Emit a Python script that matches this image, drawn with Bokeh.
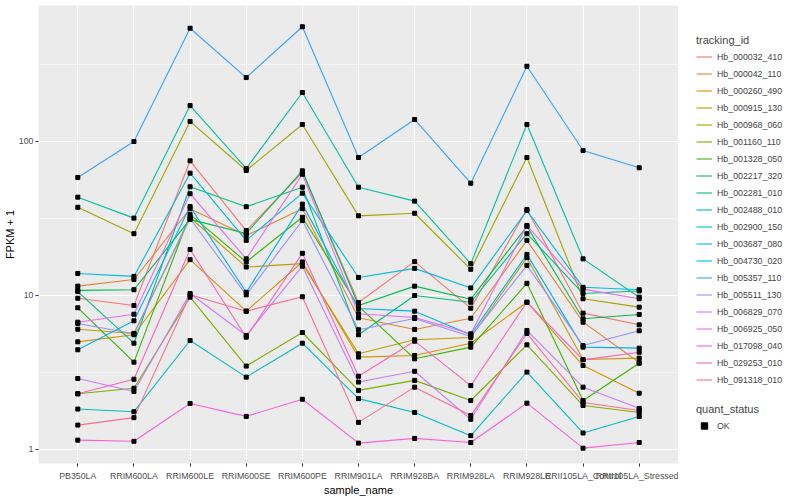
from bokeh.plotting import figure
from bokeh.layouts import row
from bokeh.models import FactorRange, Range1d, FixedTicker, PrintfTickFormatter, Legend, LegendItem
from bokeh.embed import file_html
from bokeh.resources import INLINE

samples = ["PB350LA", "RRIM600LA", "RRIM600LE", "RRIM600SE", "RRIM600PE", "RRIM901LA",
           "RRIM928BA", "RRIM928LA", "RRIM928LE", "RRII105LA_Control", "RRII105LA_Stressed"]

tracking_ids = ["Hb_000032_410", "Hb_000042_110", "Hb_000260_490", "Hb_000915_130", "Hb_000968_060",
                "Hb_001160_110", "Hb_001328_050", "Hb_002217_320", "Hb_002281_010", "Hb_002488_010",
                "Hb_002900_150", "Hb_003687_080", "Hb_004730_020", "Hb_005357_110", "Hb_005511_130",
                "Hb_006829_070", "Hb_006925_050", "Hb_017098_040", "Hb_029253_010", "Hb_091318_010"]

colors = ["#F8766D", "#EA8331", "#D89000", "#C09B00", "#A3A500", "#7CAE00", "#39B600", "#00BB4E",
          "#00BF7D", "#00C1A3", "#00BFC4", "#00BAE0", "#00B0F6", "#35A2FF", "#9590FF", "#C77CFF",
          "#E76BF3", "#FA62DB", "#FF62BC", "#FF6C91"]

# FPKM + 1 per sample (same order as samples)
hb_000032_410 = [9.6, 8.61, 74.9, 26.4, 62.9, 9.01, 16.6, 8.27, 36.2, 7.68, 6.45]
hb_000042_110 = [11.5, 12.7, 36.6, 24.5, 36.6, 7.16, 6.02, 7.12, 22.8, 6.71, 3.67]
hb_000260_490 = [5.0, 5.56, 17.1, 7.91, 16.5, 3.98, 4.08, 4.9, 9.04, 3.51, 2.32]
hb_000915_130 = [6.04, 5.67, 32.1, 15.3, 16.1, 4.18, 5.16, 5.34, 17.6, 3.84, 3.92]
hb_000968_060 = [37.4, 25.2, 135, 64.8, 129, 32.9, 34.2, 14.8, 78.7, 9.52, 8.4]
hb_001160_110 = [2.30, 2.50, 9.75, 3.48, 5.75, 2.42, 2.81, 2.08, 4.78, 1.93, 1.74]
hb_001328_050 = [8.32, 3.69, 33.6, 16.5, 32.2, 8.52, 3.88, 4.62, 12.0, 2.08, 3.63]
hb_002217_320 = [10.8, 10.9, 31.2, 25.3, 64.5, 8.61, 11.5, 9.46, 28.1, 7.06, 7.53]
hb_002281_010 = [10.6, 4.9, 50.8, 37.7, 50.5, 5.56, 10.0, 9.04, 25.2, 10.3, 10.7]
hb_002488_010 = [43.5, 31.8, 171, 66.8, 208, 50.5, 41.0, 16.1, 129, 17.3, 9.75]
hb_002900_150 = [1.83, 1.76, 5.1, 2.95, 4.9, 2.14, 1.74, 1.23, 3.18, 1.28, 1.64]
hb_003687_080 = [13.9, 13.3, 62.3, 22.8, 46.2, 13.1, 15.0, 11.2, 35.6, 11.3, 10.9]
hb_004730_020 = [4.44, 6.85, 37.8, 10.5, 39.2, 8.23, 7.91, 5.56, 18.5, 4.62, 4.55]
hb_005357_110 = [58.4, 100, 544, 260, 556, 78.7, 139, 53.6, 308, 87.4, 67.5]
hb_005511_130 = [6.58, 5.64, 31.6, 10.1, 30.7, 5.99, 7.09, 5.42, 15.7, 4.73, 5.9]
hb_006829_070 = [2.89, 2.38, 10.3, 5.5, 15.5, 2.74, 3.22, 1.57, 5.93, 2.54, 1.85]
hb_006925_050 = [6.71, 7.56, 45.8, 17.3, 61.3, 7.61, 7.2, 5.64, 28.5, 11.0, 9.52]
hb_017098_040 = [1.15, 1.13, 1.99, 1.64, 2.12, 1.10, 1.18, 1.11, 2.0, 1.02, 1.11]
hb_029253_010 = [2.30, 2.86, 19.9, 5.36, 18.8, 2.99, 5.05, 2.6, 9.04, 3.82, 4.28]
hb_091318_010 = [1.44, 1.61, 10.1, 7.91, 9.81, 1.5, 2.54, 1.66, 5.67, 2.02, 1.79]

series = [hb_000032_410, hb_000042_110, hb_000260_490, hb_000915_130, hb_000968_060,
          hb_001160_110, hb_001328_050, hb_002217_320, hb_002281_010, hb_002488_010,
          hb_002900_150, hb_003687_080, hb_004730_020, hb_005357_110, hb_005511_130,
          hb_006829_070, hb_006925_050, hb_017098_040, hb_029253_010, hb_091318_010]

y_ticks = [1, 10, 100]
y_minor = [3.1623, 31.623, 316.23]

FONT = "Liberation Sans"

p = figure(frame_width=640, frame_height=458,
           x_range=FactorRange(*samples, range_padding=0.2, range_padding_units="absolute"),
           y_axis_type="log", y_range=Range1d(0.811, 764),
           output_backend="svg", toolbar_location=None,
           min_border_top=5, min_border_right=0, min_border_left=0, min_border_bottom=0)

p.background_fill_color = "#EBEBEB"
p.border_fill_color = "white"
p.outline_line_color = None

p.xgrid.grid_line_color = "white"
p.xgrid.grid_line_width = 1.1
p.ygrid.grid_line_color = "white"
p.ygrid.grid_line_width = 1.1
p.ygrid.minor_grid_line_color = "white"
p.ygrid.minor_grid_line_width = 0.55

p.yaxis.ticker = FixedTicker(ticks=y_ticks, minor_ticks=y_minor)
p.yaxis.formatter = PrintfTickFormatter(format="%d")

for ax in (p.xaxis, p.yaxis):
    ax.axis_line_color = None
    ax.major_tick_line_color = "#333333"
    ax.major_tick_in = 0
    ax.major_tick_out = 3
    ax.minor_tick_line_color = None
    ax.major_label_text_font = FONT
    ax.major_label_text_font_size = "8.8px"
    ax.major_label_text_color = "#4D4D4D"
    ax.axis_label_text_font = FONT
    ax.axis_label_text_font_size = "11px"
    ax.axis_label_text_font_style = "normal"
    ax.axis_label_text_color = "black"
    ax.major_label_standoff = 1

p.xaxis.major_label_standoff = 4
p.xaxis.axis_label = "sample_name"
p.yaxis.axis_label = "FPKM + 1"
p.xaxis.axis_label_standoff = 0
p.yaxis.axis_label_standoff = 0

for col, vals in zip(colors, series):
    p.line(samples, vals, line_color=col, line_width=1.1)

xs, ys = [], []
for vals in series:
    xs.extend(samples)
    ys.extend(vals)
p.scatter(xs, ys, marker="square", size=4, fill_color="black", line_color="black")

# legend panel (dummy renderers drawn outside its visible range)
lf = figure(width=112, height=484, x_range=Range1d(0, 1), y_range=Range1d(0, 1),
            x_axis_location=None, y_axis_location=None,
            output_backend="svg", toolbar_location=None,
            min_border_top=0, min_border_right=0, min_border_left=0, min_border_bottom=0)
lf.grid.visible = False
lf.outline_line_color = None
lf.background_fill_color = "white"

items = []
for tid, col in zip(tracking_ids, colors):
    r = lf.line([5, 6], [5, 6], line_color=col, line_width=1.1)
    items.append(LegendItem(label=tid, renderers=[r]))
dummy_pts = lf.scatter([5], [5], marker="square", size=4, fill_color="black", line_color="black")


def style_legend(lg):
    lg.title_text_font = FONT
    lg.title_text_font_size = "11px"
    lg.title_text_font_style = "normal"
    lg.label_text_font = FONT
    lg.label_text_font_size = "8.8px"
    lg.glyph_width = 16
    lg.glyph_height = 17
    lg.label_height = 17
    lg.spacing = 0
    lg.padding = 0
    lg.margin = 0
    lg.label_standoff = 5
    lg.title_standoff = 2
    lg.border_line_color = None
    lg.background_fill_alpha = 0


lg1 = Legend(items=items, title="tracking_id", location=(18, 61))
style_legend(lg1)
lf.add_layout(lg1, "center")

lg2 = Legend(items=[LegendItem(label="OK", renderers=[dummy_pts])], title="quant_status", location=(18, 15))
style_legend(lg2)
lf.add_layout(lg2, "center")

layout = row(p, lf)
open("out.html", "w").write(file_html(layout, INLINE))
